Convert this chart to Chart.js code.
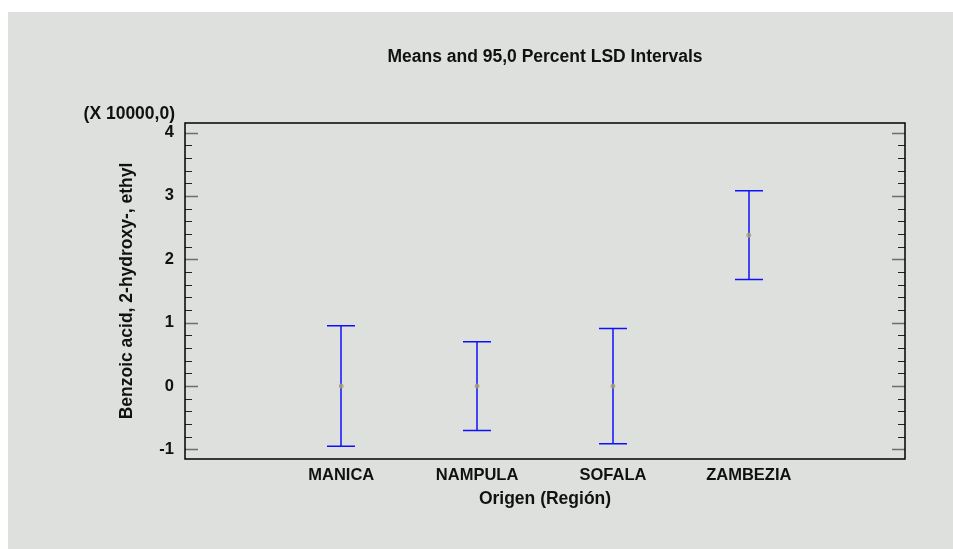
<!DOCTYPE html>
<html>
<head>
<meta charset="utf-8">
<script src="https://cdn.jsdelivr.net/npm/chart.js@4"></script>
<style>
  html, body { margin: 0; padding: 0; background: #ffffff; }
  #wrap { position: absolute; left: 8px; top: 12px; width: 945px; height: 537px; background: #dde0dd; }
</style>
</head>
<body>
<div id="wrap"><canvas id="lsdChart" width="945" height="537"></canvas></div>
<script>
// Datos (en unidades de 10000)
const regions = ['MANICA', 'NAMPULA', 'SOFALA', 'ZAMBEZIA'];
const positions = [1, 2, 3, 4];
const means = [0, 0, 0, 2.38];
const lower = [-0.95, -0.70, -0.91, 1.68];
const upper = [0.95, 0.70, 0.91, 3.08];
const yTicks = [-1, 0, 1, 2, 3, 4];
const yMinorStep = 0.2;

const family = '"Liberation Sans", Arial, sans-serif';
const tickFont = { family: family, size: 16.5, weight: 'bold' };
const titleFont = { family: family, size: 17.5, weight: 'bold' };

// Dibuja caja, marcas hacia dentro, barras de error y la etiqueta del factor
const lsdPlugin = {
    id: 'lsd',
    beforeDatasetsDraw(chart) {
        const ctx = chart.ctx;
        const a = chart.chartArea;
        const y = chart.scales.y;
        const x = chart.scales.x;
        ctx.save();
        // marcas menores y mayores
        for (let v = yTicks[0]; v <= yTicks[yTicks.length - 1] + 1e-9; v += yMinorStep) {
            const major = yTicks.some(t => Math.abs(t - v) < 1e-6);
            const py = Math.round(y.getPixelForValue(v)) + 0.5;
            const len = major ? 13 : 7;
            ctx.strokeStyle = major ? '#6e6e6e' : '#222222';
            ctx.lineWidth = major ? 1.5 : 1;
            ctx.beginPath();
            ctx.moveTo(a.left, py); ctx.lineTo(a.left + len, py);
            ctx.moveTo(a.right, py); ctx.lineTo(a.right - len, py);
            ctx.stroke();
        }
        // barras de error
        ctx.strokeStyle = '#1010ff';
        ctx.lineWidth = 1.5;
        positions.forEach((p, i) => {
            const px = Math.round(x.getPixelForValue(p));
            const yl = y.getPixelForValue(lower[i]);
            const yu = y.getPixelForValue(upper[i]);
            ctx.beginPath();
            ctx.moveTo(px, yl); ctx.lineTo(px, yu);
            ctx.moveTo(px - 14, yu); ctx.lineTo(px + 14, yu);
            ctx.moveTo(px - 14, yl); ctx.lineTo(px + 14, yl);
            ctx.stroke();
        });
        ctx.restore();
    },
    afterDraw(chart) {
        const ctx = chart.ctx;
        const a = chart.chartArea;
        ctx.save();
        ctx.strokeStyle = '#000000';
        ctx.lineWidth = 1.5;
        ctx.strokeRect(a.left, a.top, a.right - a.left, a.bottom - a.top);
        ctx.fillStyle = '#111111';
        ctx.font = 'bold 17.5px ' + family;
        ctx.textAlign = 'right';
        ctx.textBaseline = 'middle';
        ctx.fillText('(X 10000,0)', a.left - 10, a.top - 9);
        ctx.restore();
    }
};

const ctx = document.getElementById('lsdChart').getContext('2d');
const lsdChart = new Chart(ctx, {
    type: 'scatter',
    data: {
        datasets: [{
            label: 'Media',
            data: positions.map((p, i) => ({ x: p, y: means[i] })),
            pointRadius: 2,
            pointStyle: 'circle',
            borderColor: '#a8a060',
            backgroundColor: 'rgba(200,190,120,0.6)',
            borderWidth: 1
        }]
    },
    options: {
        responsive: false,
        animation: false,
        layout: { padding: { left: 0, right: 48, top: 0, bottom: 0 } },
        plugins: {
            legend: { display: false },
            tooltip: { enabled: false },
            title: {
                display: true,
                text: 'Means and 95,0 Percent LSD Intervals',
                fullSize: false,
                color: '#111111',
                font: titleFont,
                padding: { top: 35, bottom: 55 }
            }
        },
        scales: {
            x: {
                type: 'linear',
                min: -0.15,
                max: 5.15,
                grid: { display: false, drawTicks: false },
                border: { display: false },
                afterBuildTicks: scale => { scale.ticks = positions.map(v => ({ value: v })); },
                afterFit: scale => { scale.height = 90; },
                ticks: {
                    color: '#111111',
                    font: tickFont,
                    padding: 7,
                    maxRotation: 0,
                    autoSkip: false,
                    callback: v => regions[positions.indexOf(v)] || ''
                },
                title: {
                    display: true,
                    text: 'Origen (Región)',
                    color: '#111111',
                    font: titleFont,
                    padding: { top: 2, bottom: 39 }
                }
            },
            y: {
                min: -1.15,
                max: 4.15,
                grid: { display: false, drawTicks: false },
                border: { display: false },
                afterBuildTicks: scale => { scale.ticks = yTicks.map(v => ({ value: v })); },
                afterFit: scale => { scale.width = 177; },
                ticks: {
                    color: '#111111',
                    font: tickFont,
                    padding: 11
                },
                title: {
                    display: true,
                    text: 'Benzoic acid, 2-hydroxy-, ethyl',
                    color: '#111111',
                    font: titleFont,
                    padding: { top: 109, bottom: 0 }
                }
            }
        }
    },
    plugins: [lsdPlugin]
});
</script>
</body>
</html>
